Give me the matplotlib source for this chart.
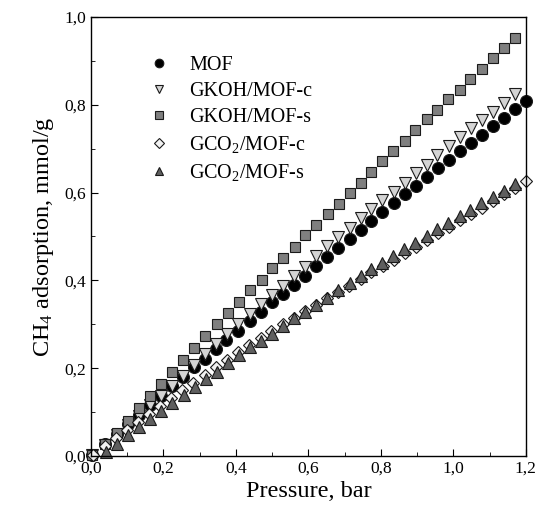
import matplotlib
matplotlib.use("Agg")
import matplotlib.pyplot as plt
from matplotlib.ticker import MultipleLocator, FuncFormatter

plt.rcParams['font.family'] = ['Liberation Serif', 'DejaVu Serif']
plt.rcParams['mathtext.fontset'] = 'custom'
plt.rcParams['mathtext.rm'] = 'Liberation Serif'
plt.rcParams['mathtext.it'] = 'Liberation Serif:italic'

# MOF
mof_p = [0.002, 0.040, 0.073, 0.103, 0.133, 0.164, 0.194, 0.224, 0.254, 0.284,
         0.314, 0.345, 0.374, 0.405, 0.439, 0.470, 0.500, 0.530, 0.561, 0.590,
         0.621, 0.652, 0.682, 0.714, 0.745, 0.774, 0.804, 0.836, 0.866, 0.897,
         0.927, 0.957, 0.988, 1.018, 1.049, 1.079, 1.109, 1.139, 1.170, 1.200]
mof_q = [0.002, 0.027, 0.051, 0.073, 0.094, 0.116, 0.137, 0.160, 0.181, 0.202,
         0.222, 0.243, 0.264, 0.285, 0.308, 0.329, 0.350, 0.369, 0.389, 0.411,
         0.433, 0.453, 0.473, 0.494, 0.515, 0.535, 0.555, 0.576, 0.596, 0.616,
         0.636, 0.655, 0.674, 0.694, 0.713, 0.732, 0.752, 0.771, 0.790, 0.809]

# GKOH/MOF-c
gkoh_c_p = [0.002, 0.040, 0.073, 0.103, 0.133, 0.164, 0.193, 0.224, 0.254, 0.284,
            0.314, 0.345, 0.375, 0.405, 0.439, 0.470, 0.500, 0.530, 0.561, 0.590,
            0.621, 0.652, 0.682, 0.714, 0.745, 0.774, 0.804, 0.836, 0.866, 0.897,
            0.927, 0.956, 0.987, 1.018, 1.048, 1.079, 1.109, 1.139, 1.170]
gkoh_c_q = [0.002, 0.025, 0.048, 0.070, 0.092, 0.115, 0.136, 0.159, 0.182, 0.207,
            0.232, 0.256, 0.278, 0.301, 0.323, 0.346, 0.367, 0.388, 0.411, 0.431,
            0.456, 0.478, 0.498, 0.520, 0.541, 0.562, 0.583, 0.601, 0.621, 0.644,
            0.663, 0.685, 0.706, 0.726, 0.746, 0.765, 0.784, 0.804, 0.825]

# GKOH/MOF-s
gkoh_s_p = [0.002, 0.040, 0.073, 0.103, 0.133, 0.164, 0.194, 0.224, 0.255, 0.285,
            0.316, 0.348, 0.379, 0.409, 0.440, 0.471, 0.501, 0.530, 0.562, 0.592,
            0.622, 0.653, 0.684, 0.714, 0.745, 0.774, 0.804, 0.834, 0.866, 0.895,
            0.926, 0.955, 0.986, 1.017, 1.047, 1.080, 1.110, 1.139, 1.170]
gkoh_s_q = [0.002, 0.027, 0.053, 0.080, 0.110, 0.137, 0.164, 0.192, 0.219, 0.245,
            0.273, 0.301, 0.326, 0.351, 0.378, 0.402, 0.428, 0.452, 0.477, 0.503,
            0.526, 0.551, 0.575, 0.599, 0.622, 0.646, 0.672, 0.695, 0.718, 0.742,
            0.768, 0.788, 0.813, 0.834, 0.858, 0.882, 0.907, 0.929, 0.953]

# GCO2/MOF-c
gco2_c_p = [0.006, 0.039, 0.070, 0.100, 0.130, 0.160, 0.191, 0.221, 0.252, 0.283,
            0.314, 0.345, 0.376, 0.406, 0.437, 0.468, 0.498, 0.529, 0.560, 0.590,
            0.621, 0.652, 0.683, 0.713, 0.744, 0.774, 0.805, 0.836, 0.866, 0.897,
            0.927, 0.958, 0.988, 1.019, 1.049, 1.079, 1.110, 1.140, 1.170, 1.200]
gco2_c_q = [0.002, 0.022, 0.040, 0.059, 0.078, 0.096, 0.114, 0.132, 0.150, 0.167,
            0.185, 0.202, 0.219, 0.237, 0.253, 0.269, 0.285, 0.300, 0.315, 0.330,
            0.345, 0.359, 0.374, 0.388, 0.403, 0.418, 0.432, 0.447, 0.462, 0.477,
            0.492, 0.507, 0.522, 0.537, 0.551, 0.566, 0.581, 0.597, 0.611, 0.627]

# GCO2/MOF-s
gco2_s_p = [0.043, 0.073, 0.103, 0.132, 0.163, 0.194, 0.224, 0.257, 0.287, 0.318,
            0.348, 0.379, 0.409, 0.439, 0.470, 0.500, 0.530, 0.561, 0.590, 0.621,
            0.652, 0.682, 0.714, 0.744, 0.774, 0.804, 0.834, 0.864, 0.895, 0.926,
            0.955, 0.986, 1.018, 1.047, 1.077, 1.110, 1.139, 1.170]
gco2_s_q = [0.009, 0.028, 0.048, 0.066, 0.085, 0.102, 0.120, 0.138, 0.157, 0.175,
            0.192, 0.211, 0.230, 0.248, 0.263, 0.279, 0.297, 0.314, 0.329, 0.344,
            0.361, 0.377, 0.393, 0.410, 0.425, 0.440, 0.456, 0.471, 0.485, 0.501,
            0.516, 0.531, 0.547, 0.560, 0.576, 0.591, 0.604, 0.620]

series = [
    (mof_p, mof_q, 'MOF', 'o', 'black', 8.6),
    (gkoh_c_p, gkoh_c_q, 'GKOH/MOF-c', 'v', '#d4d4d4', 8.0),
    (gkoh_s_p, gkoh_s_q, 'GKOH/MOF-s', 's', '#7f7f7f', 7.2),
    (gco2_c_p, gco2_c_q, 'GCO$_2$/MOF-c', 'D', '#f2f2f2', 6.5),
    (gco2_s_p, gco2_s_q, 'GCO$_2$/MOF-s', '^', '#5f5f5f', 8.0),
]

fig = plt.figure(figsize=(5.41, 5.15), dpi=100)
ax = fig.add_axes([0.168, 0.1146, 0.804, 0.8524])

for p, q, label, marker, color, ms in series:
    ax.plot(p, q, linestyle='none', marker=marker, markersize=ms,
            markerfacecolor=color, markeredgecolor='#1a1a1a',
            markeredgewidth=0.8, label=label, clip_on=False)

ax.set_xlim(0, 1.2)
ax.set_ylim(0, 1.0)
ax.xaxis.set_major_locator(MultipleLocator(0.2))
ax.xaxis.set_minor_locator(MultipleLocator(0.1))
ax.yaxis.set_major_locator(MultipleLocator(0.2))
ax.yaxis.set_minor_locator(MultipleLocator(0.1))
comma = FuncFormatter(lambda v, pos: f"{v:.1f}".replace('.', ','))
ax.xaxis.set_major_formatter(comma)
ax.yaxis.set_major_formatter(comma)
ax.tick_params(which='both', direction='in', labelsize=12.5, top=False, right=False)
ax.tick_params(which='major', length=5)
ax.tick_params(which='minor', length=3)
for s in ax.spines.values():
    s.set_linewidth(1.0)

ax.set_xlabel('Pressure, bar', fontsize=17.5, labelpad=3)
ax.set_ylabel('CH$_4$ adsorption, mmol/g', fontsize=17.5, labelpad=6)

ax.legend(loc='upper left', bbox_to_anchor=(0.11, 0.93), frameon=False,
          fontsize=14.5, markerscale=0.72, handlelength=1.2, handletextpad=0.9,
          labelspacing=0.35, borderaxespad=0)

fig.savefig('out.png', dpi=100)
